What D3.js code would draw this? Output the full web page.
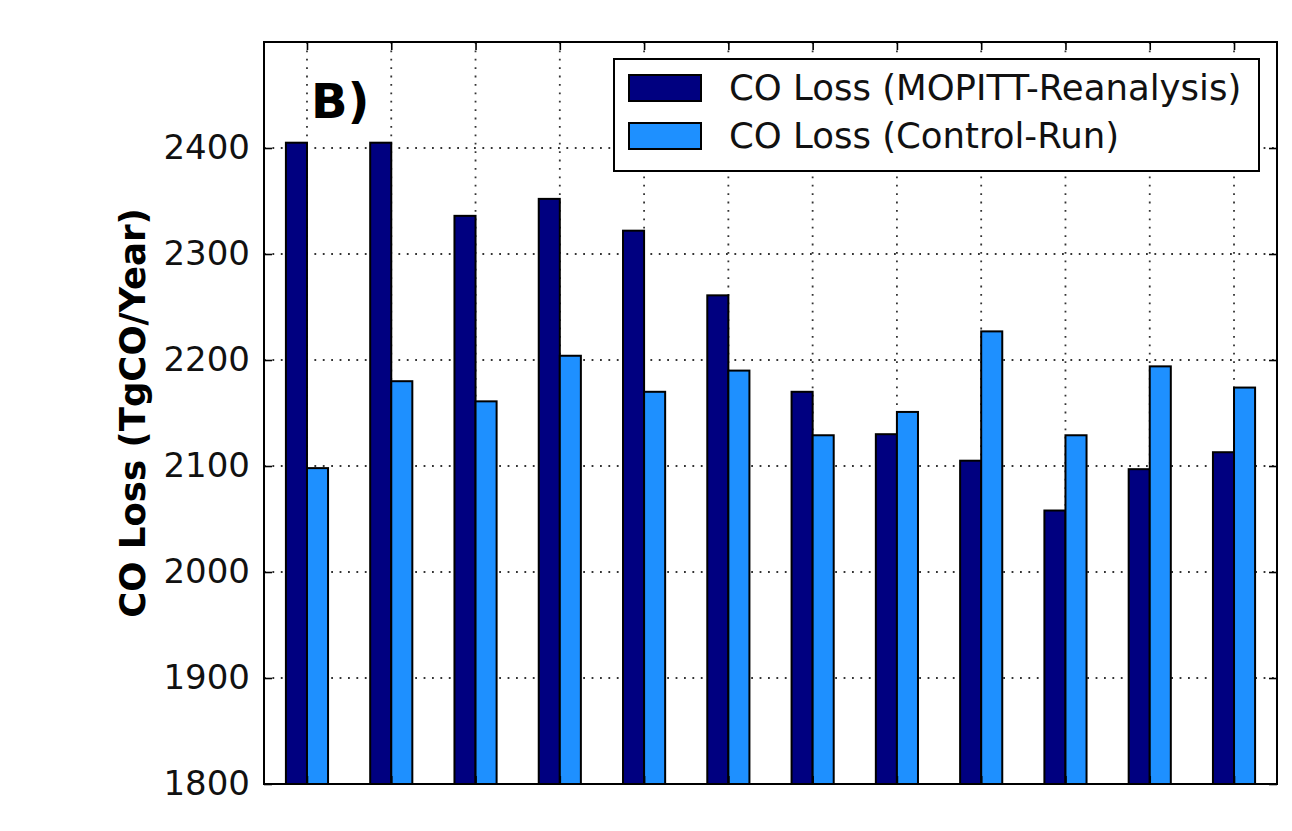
<!DOCTYPE html>
<html>
<head>
<meta charset="utf-8">
<script src="https://cdn.jsdelivr.net/npm/d3@7"></script>
<style>
  html, body { margin: 0; padding: 0; background: #fff; }
  svg { display: block; }
  text { font-family: "DejaVu Sans", sans-serif; }
</style>
</head>
<body>
<svg id="chart" width="1292" height="831"></svg>
<script>
// ---- data ----
const categories = ["1","2","3","4","5","6","7","8","9","10","11","12"];
const mopittValues = [2405, 2405, 2336, 2352, 2322, 2261, 2170, 2130, 2105, 2058, 2097, 2113];
const controlValues = [2098, 2180, 2161, 2204, 2170, 2190, 2129, 2151, 2227, 2129, 2194, 2174];
const seriesNames = ["CO Loss (MOPITT-Reanalysis)", "CO Loss (Control-Run)"];
const seriesColors = ["#000080", "#1E90FF"];
const yTicks = [1800, 1900, 2000, 2100, 2200, 2300, 2400];
const yLabel = "CO Loss (TgCO/Year)";
const panelLabel = "B)";

// ---- layout ----
const mLeft = 264, mRight = 1277, mTop = 42, mBottom = 784;
const svg = d3.select("#chart");

const x = d3.scaleLinear().domain([-0.51, categories.length - 1 + 0.51]).range([mLeft, mRight]);
const y = d3.scaleLinear().domain([1800, 2500]).range([mBottom, mTop]);
const barW = 0.25;
const idx = categories.map((c, i) => i);

// grid
const grid = svg.append("g");
grid.selectAll("line.gx").data(idx).join("line")
  .attr("x1", d => x(d)).attr("x2", d => x(d))
  .attr("y1", mTop).attr("y2", mBottom)
  .attr("stroke", "#333").attr("stroke-width", 1.8).attr("stroke-dasharray", "1.8,6.6");
grid.selectAll("line.gy").data(yTicks.slice(1)).join("line")
  .attr("x1", mLeft).attr("x2", mRight)
  .attr("y1", d => y(d)).attr("y2", d => y(d))
  .attr("stroke", "#333").attr("stroke-width", 1.8).attr("stroke-dasharray", "1.8,6.6");

// bars
const series = [mopittValues, controlValues];
series.forEach((vals, s) => {
  svg.append("g").selectAll("rect").data(vals).join("rect")
    .attr("x", (d, i) => x(i - barW + s * barW))
    .attr("width", x(barW) - x(0))
    .attr("y", d => y(d))
    .attr("height", d => y(1800) - y(d))
    .attr("fill", seriesColors[s])
    .attr("stroke", "#000").attr("stroke-width", 2);
});

// axes
const yAxisL = d3.axisLeft(y).tickValues(yTicks).tickFormat(d3.format("d"))
  .tickSizeInner(-8).tickSizeOuter(0).tickPadding(14);
const gL = svg.append("g").attr("transform", `translate(${mLeft},0)`).call(yAxisL);
gL.select(".domain").remove();
gL.selectAll("text").attr("font-size", 34).attr("fill", "#111").attr("font-family", "DejaVu Sans");
gL.selectAll("line").attr("stroke", "#000").attr("stroke-width", 1.6);

const gR = svg.append("g").attr("transform", `translate(${mRight},0)`)
  .call(d3.axisRight(y).tickValues(yTicks).tickSizeInner(-8).tickSizeOuter(0).tickFormat(""));
gR.select(".domain").remove();
gR.selectAll("line").attr("stroke", "#000").attr("stroke-width", 1.6);

const gB = svg.append("g").attr("transform", `translate(0,${mBottom})`)
  .call(d3.axisBottom(x).tickValues(idx).tickSizeInner(-8).tickSizeOuter(0).tickFormat(""));
gB.select(".domain").remove();
gB.selectAll("line").attr("stroke", "#000").attr("stroke-width", 1.6);

const gT = svg.append("g").attr("transform", `translate(0,${mTop})`)
  .call(d3.axisTop(x).tickValues(idx).tickSizeInner(-8).tickSizeOuter(0).tickFormat(""));
gT.select(".domain").remove();
gT.selectAll("line").attr("stroke", "#000").attr("stroke-width", 1.6);

// frame
svg.append("rect").attr("x", mLeft).attr("y", mTop).attr("width", mRight - mLeft).attr("height", mBottom - mTop)
  .attr("fill", "none").attr("stroke", "#000").attr("stroke-width", 2);

// y label
svg.append("text")
  .attr("transform", `translate(145,${(mTop + mBottom) / 2}) rotate(-90)`)
  .attr("text-anchor", "middle")
  .attr("font-size", 35.5).attr("font-weight", "bold").attr("fill", "#000")
  .text(yLabel);

// panel label
svg.append("text").attr("x", 311).attr("y", 118)
  .attr("font-size", 48).attr("font-weight", "bold").attr("fill", "#000")
  .text(panelLabel);

// legend
const lg = svg.append("g");
lg.append("rect").attr("x", 614).attr("y", 59).attr("width", 645).attr("height", 112)
  .attr("fill", "#fff").attr("stroke", "#000").attr("stroke-width", 2);
seriesNames.forEach((name, i) => {
  const cy = 88 + i * 48;
  lg.append("rect").attr("x", 629).attr("y", cy - 13).attr("width", 72).attr("height", 26)
    .attr("fill", seriesColors[i]).attr("stroke", "#000").attr("stroke-width", 2);
  lg.append("text").attr("x", 729).attr("y", cy + 12)
    .attr("font-size", 35.5).attr("fill", "#111").text(name);
});
</script>
</body>
</html>
